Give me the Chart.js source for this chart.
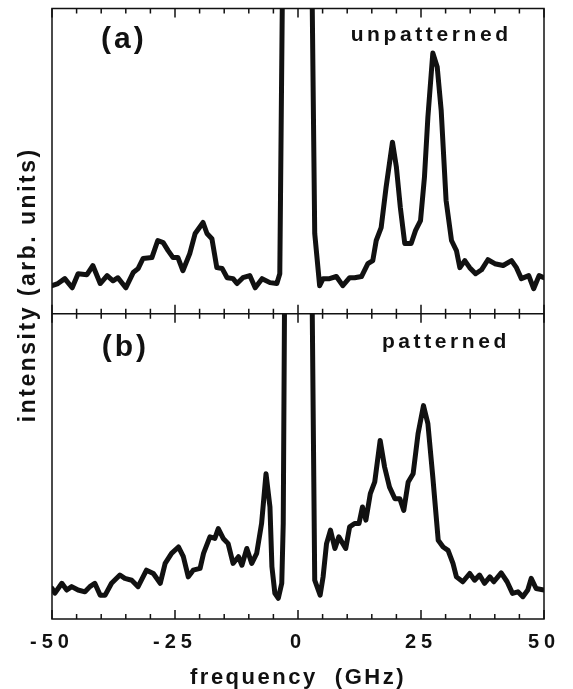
<!DOCTYPE html>
<html>
<head>
<meta charset="utf-8">
<title>Brillouin spectra</title>
<script src="https://cdn.jsdelivr.net/npm/chart.js@4.4.1/dist/chart.umd.min.js"></script>
<style>
  html, body { margin: 0; padding: 0; background: #fff; }
</style>
</head>
<body>
<canvas id="spectra_chart" width="573" height="689"></canvas>
<script>
// (a) unpatterned film
const freqA = [-50, -48.8, -47.4, -45.9, -44.7, -42.9, -41.7, -40.2, -38.8, -37.6,
  -36.6, -35.0, -33.5, -32.5, -31.5, -29.7, -28.5, -27.4, -26.4, -25.4,
  -24.4, -23.4, -22.0, -20.9, -19.3, -18.5, -17.5, -16.5, -15.4, -14.4,
  -13.2, -12.4, -11.2, -9.8, -8.7, -7.3, -5.7, -4.3, -3.7, -3.2,
  0, 2.9, 3.4, 4.4, 5.1, 6.4, 7.8, 9.1, 10.5, 11.5,
  12.9, 14.2, 15.2, 15.9, 16.9, 17.9, 19.2, 20.0, 20.8, 21.7,
  23.0, 23.9, 24.9, 25.7, 26.4, 27.4, 28.3, 29.1, 30.1, 31.2,
  32.2, 32.9, 33.9, 34.9, 36.1, 37.3, 38.6, 40.0, 41.7, 43.4,
  44.4, 45.4, 46.9, 47.9, 49.0, 50.0];
const intensityA = [9.2, 9.9, 11.5, 8.5, 13.1, 12.8, 15.8, 9.9, 12.5, 10.8,
  11.8, 8.5, 13.5, 14.8, 18.1, 18.4, 24.0, 23.3, 20.7, 18.4,
  18.4, 14.1, 19.7, 26.3, 29.9, 26.3, 24.6, 15.1, 14.8, 11.8,
  11.5, 9.9, 11.8, 12.5, 8.5, 11.5, 10.2, 9.9, 13.1, 100,
  1000, 100, 26.3, 9.2, 11.5, 11.5, 12.2, 9.2, 11.8, 11.8,
  12.2, 16.4, 17.4, 24.0, 28.2, 41.4, 56.2, 48.0, 34.8, 23.0,
  23.0, 27.3, 30.5, 44.7, 64.4, 85.4, 80.8, 66.7, 37.1, 24.0,
  20.7, 15.1, 17.4, 15.1, 13.1, 14.4, 17.7, 16.4, 15.8, 17.4,
  15.1, 11.5, 12.5, 8.2, 12.5, 11.8];

// (b) patterned film
const freqB = [-50.0, -49.4, -48.0, -47.0, -46.0, -44.7, -43.3, -42.3, -41.3, -40.2,
  -39.2, -37.9, -36.2, -35.2, -33.8, -32.5, -30.8, -29.4, -28.0, -27.0,
  -25.7, -24.3, -23.3, -22.3, -21.3, -19.9, -19.2, -17.9, -16.9, -16.2,
  -15.2, -14.2, -13.2, -12.1, -11.4, -10.4, -9.4, -8.4, -7.4, -6.5,
  -5.7, -5.3, -4.7, -4.0, -3.3, -3.0, -2.75, 0, 2.9, 3.4,
  4.5, 5.1, 5.8, 6.6, 7.5, 8.3, 9.7, 10.5, 11.5, 12.4,
  13.1, 13.8, 14.7, 15.6, 16.7, 17.6, 18.6, 19.7, 20.7, 21.5,
  22.4, 23.4, 24.4, 25.5, 26.4, 27.4, 28.5, 29.5, 30.5, 31.5,
  32.2, 33.5, 34.9, 35.9, 36.9, 37.9, 39.0, 39.8, 41.3, 42.5,
  43.6, 44.7, 45.7, 46.7, 47.4, 48.4, 50.0];
const intensityB = [10.0, 8.5, 11.7, 9.5, 10.6, 9.5, 8.9, 10.6, 11.7, 7.8,
  7.8, 11.7, 14.4, 13.3, 12.7, 10.6, 16.0, 14.9, 11.7, 18.2,
  21.5, 23.6, 20.4, 13.8, 16.0, 16.6, 21.5, 26.9, 26.4, 29.6,
  26.4, 24.7, 18.2, 20.4, 17.6, 23.1, 18.2, 21.5, 31.3, 47.6,
  36.7, 17.1, 8.4, 6.8, 11.7, 31.3, 100, 1000, 100, 12.7,
  7.8, 13.8, 24.7, 29.1, 23.1, 26.9, 23.1, 30.2, 31.3, 31.3,
  36.7, 32.4, 41.1, 44.9, 58.5, 49.8, 43.2, 39.4, 39.4, 35.6,
  44.9, 47.6, 60.7, 69.9, 64.0, 46.5, 25.8, 23.6, 22.5, 18.2,
  13.8, 12.2, 14.9, 12.7, 14.4, 11.7, 13.8, 12.2, 15.1, 12.2,
  8.4, 8.9, 7.3, 9.5, 13.3, 10.0, 9.5];

const freqTicks = [-50, -25, 0, 25, 50];
const minorTicks = [-50, -45, -40, -35, -30, -25, -20, -15, -10, -5, 0,
  5, 10, 15, 20, 25, 30, 35, 40, 45, 50];

const FONT = "'Liberation Sans', Arial, Helvetica, sans-serif";
const INK = "#111";

const toPoints = (xs, ys) => xs.map((x, i) => ({ x: x, y: ys[i] }));

// frame, inward ticks, panel labels; letter spacing like the printed figure
const framePlugin = {
    id: "frame",
    beforeDraw(chart) {
        chart.ctx.letterSpacing = "2.5px";
    },
    afterDatasetsDraw(chart) {
        const { ctx, scales } = chart;
        const x = scales.x;
        const top = scales.yTop.top;
        const mid = scales.yTop.bottom;
        const bottom = scales.yBottom.bottom;
        ctx.save();
        ctx.strokeStyle = INK;
        ctx.lineWidth = 1.5;
        ctx.strokeRect(x.left, top, x.right - x.left, bottom - top);
        ctx.beginPath();
        ctx.moveTo(x.left, mid);
        ctx.lineTo(x.right, mid);
        minorTicks.forEach((v) => {
            const px = x.getPixelForValue(v);
            const len = freqTicks.includes(v) ? 9 : 5;
            ctx.moveTo(px, top);
            ctx.lineTo(px, top + len);
            ctx.moveTo(px, mid - len);
            ctx.lineTo(px, mid + len);
            ctx.moveTo(px, bottom);
            ctx.lineTo(px, bottom - len);
        });
        ctx.stroke();
        ctx.restore();
        // tick labels are drawn after this (ticks.z = 1)
        ctx.letterSpacing = "5px";
    },
    afterDraw(chart) {
        const { ctx, scales } = chart;
        const x = scales.x;
        const label = (text, px, py, size, spacing) => {
            ctx.letterSpacing = spacing + "px";
            ctx.font = "bold " + size + "px " + FONT;
            ctx.fillText(text, px + spacing / 2, py);
        };
        ctx.save();
        ctx.fillStyle = INK;
        ctx.textAlign = "center";
        ctx.textBaseline = "alphabetic";
        label("(a)", x.getPixelForValue(-35.7), scales.yTop.getPixelForValue(86.9), 30, 3);
        label("unpatterned", x.getPixelForValue(26.7), scales.yTop.getPixelForValue(89.3), 21, 3.6);
        label("(b)", x.getPixelForValue(-35.4), scales.yBottom.getPixelForValue(86.3), 30, 3);
        label("patterned", x.getPixelForValue(29.7), scales.yBottom.getPixelForValue(88.8), 21, 3.6);

        // y axis title, rotated
        ctx.translate(29, 286);
        ctx.rotate(-Math.PI / 2);
        ctx.textBaseline = "middle";
        label("intensity (arb. units)", 0, 0, 23, 2.5);
        ctx.restore();
        ctx.letterSpacing = "0px";
    },
};

const panelAxis = {
    type: "linear",
    position: "left",
    stack: "panels",
    stackWeight: 1,
    min: 0,
    max: 100,
    grid: { display: false, drawTicks: false },
    border: { display: false },
    ticks: { display: false },
};

const lineStyle = {
    borderColor: INK,
    borderWidth: 5,
    borderJoinStyle: "round",
    borderCapStyle: "round",
    pointRadius: 0,
    tension: 0,
    fill: false,
    clip: 0,
};

const ctx = document.querySelector("#spectra_chart");
new Chart(ctx, {
    type: "line",
    data: {
        datasets: [
            { ...lineStyle, label: "unpatterned", data: toPoints(freqA, intensityA), yAxisID: "yTop" },
            { ...lineStyle, label: "patterned", data: toPoints(freqB, intensityB), yAxisID: "yBottom" },
        ],
    },
    options: {
        responsive: false,
        animation: false,
        devicePixelRatio: 1,
        layout: { padding: { left: 52, top: 8.5, right: 29, bottom: 0 } },
        plugins: {
            legend: { display: false },
            tooltip: { enabled: false },
        },
        scales: {
            x: {
                type: "linear",
                min: -50,
                max: 50,
                afterBuildTicks: (scale) => {
                    scale.ticks = freqTicks.map((v) => ({ value: v }));
                },
                grid: { display: false, drawTicks: false },
                border: { display: false },
                ticks: {
                    z: 1,
                    padding: 11,
                    color: INK,
                    autoSkip: false,
                    maxRotation: 0,
                    font: { family: FONT, size: 20, weight: "bold", lineHeight: 1.2 },
                    callback: (v) => String(v),
                },
                title: {
                    display: true,
                    text: "frequency  (GHz)",
                    color: INK,
                    font: { family: FONT, size: 22, weight: "bold", lineHeight: 1.0 },
                    padding: { top: 2, bottom: 0 },
                },
            },
            yBottom: { ...panelAxis },
            yTop: { ...panelAxis },
        },
    },
    plugins: [framePlugin],
});
</script>
</body>
</html>
